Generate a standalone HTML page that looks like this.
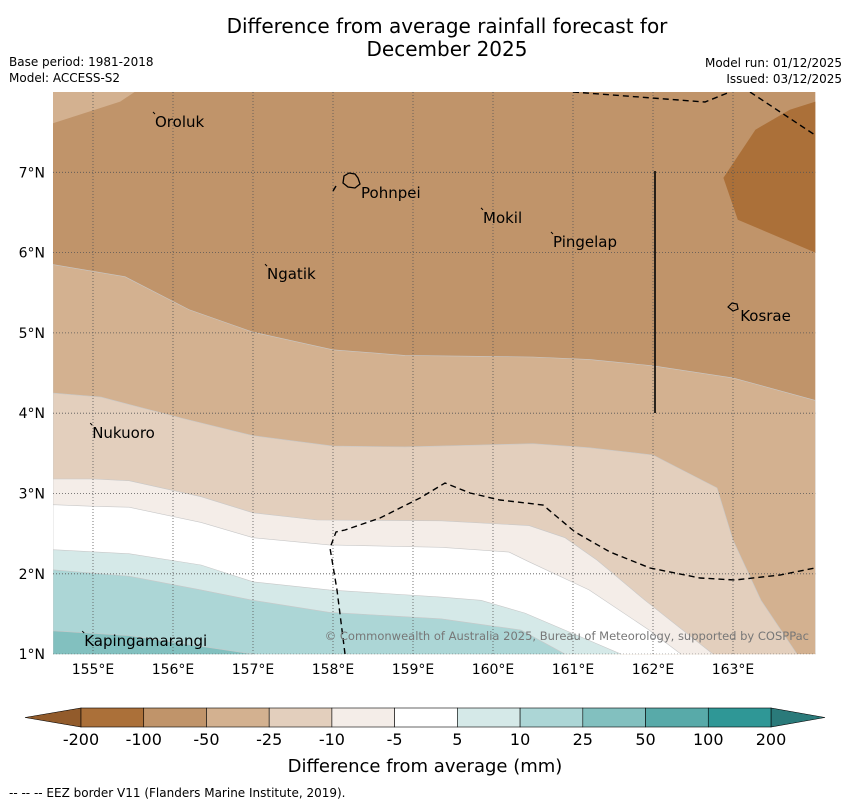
<!DOCTYPE html>
<html><head><meta charset="utf-8">
<style>
body{margin:0;background:#fff;font-family:"Liberation Sans","DejaVu Sans",sans-serif;}
#wrap{position:relative;width:850px;height:804px;overflow:hidden;}
</style></head>
<body>
<div id="wrap">
<svg id="svg" width="850" height="804" xmlns="http://www.w3.org/2000/svg" font-family="DejaVu Sans, Liberation Sans, sans-serif">
<text x="447" y="33" font-size="20" text-anchor="middle">Difference from average rainfall forecast for</text>
<text x="447" y="56" font-size="20" text-anchor="middle">December 2025</text>
<text x="9" y="66" font-size="12">Base period: 1981-2018</text>
<text x="9" y="82" font-size="12">Model: ACCESS-S2</text>
<text x="842" y="67" font-size="12" text-anchor="end">Model run: 01/12/2025</text>
<text x="842" y="83" font-size="12" text-anchor="end">Issued: 03/12/2025</text>
<g id="map"></g>
<g id="cbar"></g>
<text x="425" y="772" font-size="18" text-anchor="middle">Difference from average (mm)</text>
<text x="9" y="797" font-size="12">--  --  -- EEZ border V11 (Flanders Marine Institute, 2019).</text>
</svg>
</div>
<script>
const colors=["#ab7039","#c0946a","#d3b190","#e3cfbd","#f4ede8","#ffffff","#d5e9e8","#acd6d6","#82c0bf","#58aaa9","#2f9796"];
const cbLabels=["-200","-100","-50","-25","-10","-5","5","10","25","50","100","200"];
const lonTicks=[155,156,157,158,159,160,161,162,163];
const latTicks=[1,2,3,4,5,6,7];
// contour boundaries [lon,lat]; region below each boundary gets the colour index
const bndM100=[[154.5,5.85],[155.4,5.70],[156.2,5.29],[157.0,5.01],[158.0,4.79],[158.9,4.72],[160.5,4.70],[161.2,4.67],[162.0,4.59],[163.0,4.44],[164.03,4.16]];
const bndM50=[[154.5,4.25],[155.1,4.20],[156.1,3.94],[157.0,3.72],[158.0,3.59],[158.9,3.58],[160.5,3.62],[161.2,3.57],[162.0,3.48],[162.8,3.07],[163.0,2.42],[163.35,1.67],[163.8,1.0]];
const bndM25=[[154.5,3.18],[155.0,3.18],[155.45,3.16],[156.35,2.96],[157.0,2.76],[157.8,2.67],[159.35,2.66],[160.45,2.60],[160.9,2.45],[161.3,2.17],[161.9,1.67],[162.75,1.0]];
const bndM10=[[154.5,2.86],[155.0,2.84],[155.45,2.83],[156.35,2.64],[157.0,2.45],[157.95,2.36],[159.35,2.33],[160.2,2.27],[160.45,2.15],[161.2,1.80],[161.95,1.30],[162.35,1.0]];
const bndP5=[[154.5,2.30],[155.45,2.25],[156.35,2.11],[157.0,1.90],[157.95,1.80],[159.35,1.71],[159.85,1.67],[160.4,1.51],[161.2,1.17],[161.6,1.0]];
const bndP10=[[154.5,2.05],[155.45,1.97],[156.35,1.80],[157.0,1.67],[157.95,1.52],[159.35,1.44],[160.35,1.30],[160.9,1.0]];
const bndP25=[[154.5,1.29],[155.45,1.23],[157.0,1.0]];
const regionM200=[[164.03,7.88],[163.71,7.78],[163.28,7.53],[162.88,6.93],[163.06,6.41],[164.03,6.0]];
const regionTopLeft=[[154.5,8],[155.52,8],[155.34,7.88],[154.5,7.61]];
const islands=[["Oroluk",155.775,7.564,1],["Pohnpei",158.35,6.68,0],["Mokil",159.875,6.37,1],["Pingelap",160.75,6.07,1],["Ngatik",157.175,5.67,1],["Kosrae",163.09,5.15,0],["Nukuoro",154.99,3.69,1],["Kapingamarangi",154.89,1.10,1]];

const LON0=154.5,LON1=164.03,LAT0=1,LAT1=8,X0=53,Y0=92;
const sx=lon=>X0+(lon-LON0)*80;
const sy=lat=>Y0+(LAT1-lat)*80.3;
const NS="http://www.w3.org/2000/svg";
const map=document.getElementById('map');
function mk(tag,attrs,parent){const e=document.createElementNS(NS,tag);for(const k in attrs)e.setAttribute(k,attrs[k]);parent.appendChild(e);return e;}
function pts(a){return a.map(p=>sx(p[0]).toFixed(1)+","+sy(p[1]).toFixed(1)).join(" ");}

const clip=mk('clipPath',{id:'mc'},map);mk('rect',{x:X0,y:Y0,width:sx(LON1)-X0,height:sy(LAT0)-Y0},clip);
const g=mk('g',{'clip-path':'url(#mc)'},map);
const bg=mk('rect',{x:X0,y:Y0,width:sx(LON1)-X0,height:sy(LAT0)-Y0,fill:colors[1]},g);


const tl=mk('polygon',{points:pts(regionTopLeft),fill:colors[2]},g);


const dk=mk('polygon',{points:pts(regionM200),fill:colors[0]},g);


const bands=[[bndM100,2,'band-minus50'],[bndM50,3,'band-minus25'],[bndM25,4,'band-minus10'],[bndM10,5,'band-neutral'],[bndP5,6,'band-plus5'],[bndP10,7,'band-plus10'],[bndP25,8,'band-plus25']];
bands.forEach(b=>{
  const a=b[0].slice();const last=a[a.length-1];
  a.push([last[0],LAT0-0.05]);a.push([LON1,LAT0-0.05]);a.push([LON0,LAT0-0.05]);
  if(last[0]<LON1){a.splice(a.length-2,1);}
  const p=mk('polygon',{points:pts(a),fill:colors[b[1]],stroke:'#c8c8c8','stroke-width':0.6},g);
  
  
});
lonTicks.forEach(l=>{const ln=mk('line',{x1:sx(l),x2:sx(l),y1:Y0,y2:sy(LAT0),stroke:'#555','stroke-width':0.8,'stroke-dasharray':'1,2'},g);


const t=mk('text',{x:sx(l),y:674,'font-size':14,'text-anchor':'middle'},map);t.textContent=l+"°E";

});
latTicks.forEach(l=>{const ln=mk('line',{x1:X0,x2:sx(LON1),y1:sy(l),y2:sy(l),stroke:'#555','stroke-width':0.8,'stroke-dasharray':'1,2'},g);


const t=mk('text',{x:45,y:sy(l)+5,'font-size':14,'text-anchor':'end'},map);t.textContent=l+"°N";

});
const eez=[
 "M345,654 L337,590 L330,548 L336,532 L345,530 L380,518 L420,498 L445,483 L470,493 L500,500 L543,505 L575,532 L610,552 L650,568 L700,578 L735,580 L780,575 L815,568",
 "M573,92 L705,102 L730,92","M750,92 L815,135","M333,191 L336,186"];
eez.forEach(d=>{const p=mk('path',{d:d,fill:'none',stroke:'#000','stroke-width':1.4,'stroke-dasharray':'6,4'},g);

});
const vl=mk('line',{x1:655,x2:655,y1:171,y2:413,stroke:'#000','stroke-width':1.6},g);


const ip=mk('path',{d:"M344,176 L349,173 L355,174 L358,178 L360,184 L355,188 L348,187 L343,183 Z",fill:'none',stroke:'#000','stroke-width':1.3},g);


const ik=mk('path',{d:"M728,307 L732,303 L737,304 L738,309 L733,311 Z",fill:'none',stroke:'#000','stroke-width':1.2},g);


islands.forEach(s=>{
  const x=sx(s[1]),y=sy(s[2]);
  if(s[3]){
  const d=mk('line',{x1:x-2,y1:y-15,x2:x,y2:y-13,stroke:'#000','stroke-width':1},map);
  
  }
  const t=mk('text',{x:x,y:y,'font-size':15},map);t.textContent=s[0];
  
  
});
const cp=mk('text',{x:809,y:640,'font-size':11.5,'text-anchor':'end',fill:'#777'},map);
cp.textContent="© Commonwealth of Australia 2025, Bureau of Meteorology, supported by COSPPac";



const cb=document.getElementById('cbar');
const CX0=81,CX1=771,CY0=708,CY1=727,n=colors.length,w=(CX1-CX0)/n;
const lt=mk('polygon',{points:`25,717.5 ${CX0},${CY0} ${CX0},${CY1}`,fill:'#925b2b',stroke:'#000','stroke-width':0.6},cb);


const rt=mk('polygon',{points:`825,717.5 ${CX1},${CY0} ${CX1},${CY1}`,fill:'#2a7a7a',stroke:'#000','stroke-width':0.6},cb);


colors.forEach((c,i)=>{const r=mk('rect',{x:CX0+i*w,y:CY0,width:w,height:CY1-CY0,fill:c,stroke:'#000','stroke-width':0.6},cb);

});
cbLabels.forEach((l,i)=>{const t=mk('text',{x:CX0+i*w,y:745,'font-size':16,'text-anchor':'middle'},cb);t.textContent=l;

});
</script>
</body></html>
